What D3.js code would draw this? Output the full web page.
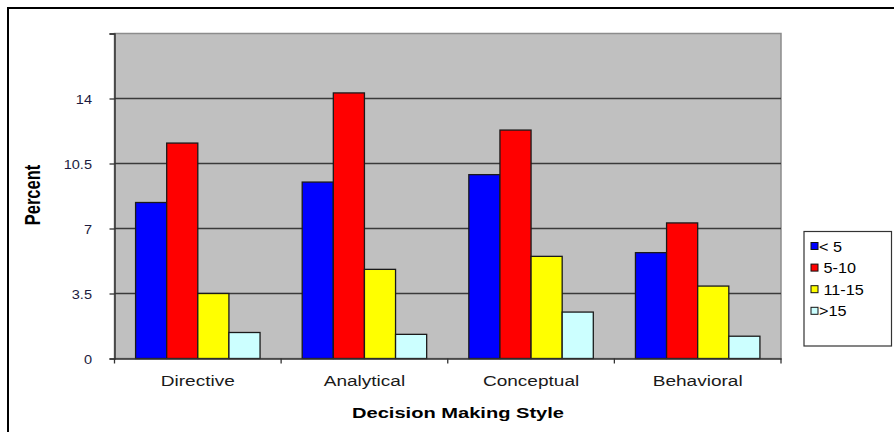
<!DOCTYPE html>
<html>
<head>
<meta charset="utf-8">
<script src="https://cdn.jsdelivr.net/npm/d3@7"></script>
<style>
  html, body { margin: 0; padding: 0; background: #fff; }
  svg { display: block; font-family: Arial, "Liberation Sans", sans-serif; }
</style>
</head>
<body>
<svg id="chart" width="894" height="432"></svg>
<script>
// Decision making style by years of experience (percent)
const categories = ["Directive", "Analytical", "Conceptual", "Behavioral"];
const seriesNames = ["< 5", " 5-10", " 11-15", ">15"];
const seriesColors = ["#0000ff", "#ff0000", "#ffff00", "#ccffff"];
const lessThan5 = [8.4, 9.5, 9.9, 5.7];
const from5to10 = [11.6, 14.3, 12.3, 7.3];
const from11to15 = [3.5, 4.8, 5.5, 3.9];
const over15 = [1.4, 1.3, 2.5, 1.2];
const yTicks = [0, 3.5, 7, 10.5, 14, 17.5];
const yTickLabels = ["0", "3.5", "7", "10.5", "14", ""];

const seriesValues = [lessThan5, from5to10, from11to15, over15];

const svg = d3.select("#chart");
const FONT = "Arial, 'Liberation Sans', sans-serif";

// outer frame (open to the right and bottom)
svg.append("path")
  .attr("d", "M8,432 L8,8 L894,8")
  .attr("fill", "none")
  .attr("stroke", "#000")
  .attr("stroke-width", 2);

const plot = { left: 114.5, right: 781, top: 33.5, bottom: 358.5 };

const x0 = d3.scaleBand()
  .domain(categories)
  .range([plot.left, plot.right])
  .paddingInner(0.253)
  .paddingOuter(0.1265);

const x1 = d3.scaleBand()
  .domain(d3.range(seriesNames.length))
  .range([0, x0.bandwidth()]);

const y = d3.scaleLinear()
  .domain([0, 17.5])
  .range([plot.bottom, plot.top]);

// plot background
svg.append("rect")
  .attr("x", plot.left)
  .attr("y", plot.top)
  .attr("width", plot.right - plot.left)
  .attr("height", plot.bottom - plot.top)
  .attr("fill", "#c0c0c0")
  .attr("stroke", "#8c8c8c")
  .attr("stroke-width", 1.5);

// horizontal gridlines
svg.append("g")
  .selectAll("line")
  .data(yTicks.filter(t => t > 0 && t < 17.5))
  .join("line")
  .attr("x1", plot.left)
  .attr("x2", plot.right)
  .attr("y1", d => y(d))
  .attr("y2", d => y(d))
  .attr("stroke", "#3a3a3a")
  .attr("stroke-width", 1.6);

// bars
const groups = svg.append("g")
  .selectAll("g")
  .data(categories)
  .join("g")
  .attr("transform", d => `translate(${x0(d)},0)`);

groups.selectAll("rect")
  .data((c, ci) => seriesValues.map((vals, si) => ({ si, v: vals[ci] })))
  .join("rect")
  .attr("x", d => x1(d.si))
  .attr("y", d => y(d.v))
  .attr("width", x1.bandwidth())
  .attr("height", d => y(0) - y(d.v))
  .attr("fill", d => seriesColors[d.si])
  .attr("stroke", "#1a1a1a")
  .attr("stroke-width", 1.3);

// y axis
const yAxis = d3.axisLeft(y)
  .tickValues(yTicks)
  .tickFormat((d, i) => yTickLabels[i])
  .tickSize(5);

const gy = svg.append("g")
  .attr("transform", `translate(${plot.left},0)`)
  .call(yAxis);
gy.select(".domain").attr("stroke", "#333").attr("stroke-width", 1.5);
gy.selectAll(".tick line").attr("stroke", "#333").attr("stroke-width", 1.3);
gy.selectAll(".tick text")
  .attr("x", 0)
  .attr("dy", "0.35em")
  .attr("transform", "translate(-22.5,0) scale(1.12,1)")
  .attr("font-size", 13)
  .attr("font-family", FONT)
  .attr("fill", "#1c1c40");

// x axis with ticks on category boundaries
const xAxis = d3.axisBottom(x0).tickSize(0);
const gx = svg.append("g")
  .attr("transform", `translate(0,${plot.bottom})`)
  .call(xAxis);
gx.select(".domain").attr("stroke", "#333").attr("stroke-width", 1.5);
gx.selectAll(".tick text")
  .attr("y", 27.5)
  .attr("dy", 0)
  .attr("transform", "scale(1.27,1)")
  .attr("font-size", 15)
  .attr("font-family", FONT)
  .attr("fill", "#1a1a1a");

const boundaries = categories.map(c => x0(c) - x0.step() * x0.paddingInner() / 2)
  .concat([plot.right]);
boundaries[0] = plot.left;
gx.append("g")
  .selectAll("line")
  .data(boundaries)
  .join("line")
  .attr("x1", d => d)
  .attr("x2", d => d)
  .attr("y1", 0)
  .attr("y2", 5)
  .attr("stroke", "#333")
  .attr("stroke-width", 1.3);

// axis titles
svg.append("text")
  .attr("transform", "translate(40,195) scale(1.3,1) rotate(-90)")
  .attr("text-anchor", "middle")
  .attr("font-size", 16.5)
  .attr("font-weight", "bold")
  .attr("fill", "#000")
  .text("Percent");

svg.append("text")
  .attr("transform", "translate(458,418) scale(1.34,1)")
  .attr("text-anchor", "middle")
  .attr("font-size", 15)
  .attr("font-weight", "bold")
  .attr("fill", "#000")
  .text("Decision Making Style");

// legend
const legend = svg.append("g");
legend.append("rect")
  .attr("x", 804)
  .attr("y", 231.5)
  .attr("width", 87.5)
  .attr("height", 114.5)
  .attr("fill", "#fff")
  .attr("stroke", "#333")
  .attr("stroke-width", 1.2);

const items = legend.selectAll("g.item")
  .data(seriesNames)
  .join("g")
  .attr("class", "item")
  .attr("transform", (d, i) => `translate(811,${246 + i * 21.6})`);

items.append("rect")
  .attr("x", 0)
  .attr("y", -3.5)
  .attr("width", 7)
  .attr("height", 7)
  .attr("fill", (d, i) => seriesColors[i])
  .attr("stroke", "#111")
  .attr("stroke-width", 1);

items.append("text")
  .attr("transform", "translate(8,5.5) scale(1.08,1)")
  .attr("font-size", 15)
  .attr("fill", "#000")
  .attr("xml:space", "preserve")
  .style("white-space", "pre")
  .text(d => d);
</script>
</body>
</html>
